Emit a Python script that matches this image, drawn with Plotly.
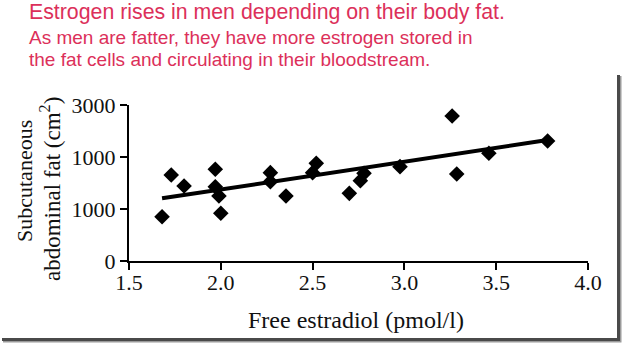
import plotly.graph_objects as go

# Free estradiol (pmol/l) vs subcutaneous abdominal fat (cm^2)
estradiol = [1.68, 1.73, 1.80, 1.97, 1.97, 1.99, 2.00, 2.27, 2.27, 2.355,
             2.50, 2.52, 2.70, 2.76, 2.78, 2.976, 3.26, 3.285, 3.46, 3.78]
fat_area = [852, 1654, 1442, 1763, 1429, 1250, 917, 1699, 1526, 1250,
            1699, 1878, 1301, 1545, 1686, 1814, 2788, 1673, 2071, 2308]

# Fitted trend line end points
trend_x = [1.68, 3.78]
trend_y = [1205, 2325]

x_ticks = [1.5, 2.0, 2.5, 3.0, 3.5, 4.0]
x_tick_text = ["1.5", "2.0", "2.5", "3.0", "3.5", "4.0"]
y_ticks = [0, 1000, 2000, 3000]
y_tick_text = ["0", "1000", "1000", "3000"]

title_lines = [
    "Estrogen rises in men depending on their body fat.",
    "As men are fatter, they have more estrogen stored in",
    "the fat cells and circulating in their bloodstream.",
]

W, H = 624, 345
L, R, T, B = 129, 36, 105, 84
PW, PH = W - L - R, H - T - B


def px(x):
    return (x - L) / PW


def py(y):
    return (H - B - y) / PH


TITLE_COLOR = "#dc305a"
SERIF = "Liberation Serif, Times New Roman, serif"
SANS = "Liberation Sans, Arial, sans-serif"

fig = go.Figure()
fig.add_trace(go.Scatter(
    x=trend_x, y=trend_y, mode="lines",
    line=dict(color="black", width=4), hoverinfo="skip",
))
fig.add_trace(go.Scatter(
    x=estradiol, y=fat_area, mode="markers",
    marker=dict(symbol="diamond", size=12, color="black"),
))

annotations = []
for text, cy, size in zip(title_lines, [12, 37.5, 59.5], [21.3, 19, 19]):
    annotations.append(dict(
        text=text, x=px(27), y=py(cy), xref="paper", yref="paper",
        xanchor="left", yanchor="middle", showarrow=False,
        font=dict(family=SANS, size=size, color=TITLE_COLOR),
    ))

annotations.append(dict(
    text="Subcutaneous", x=px(24), y=py(181), xref="paper", yref="paper",
    xanchor="center", yanchor="middle", textangle=-90, showarrow=False,
    font=dict(family=SERIF, size=22, color="#111"),
))
annotations.append(dict(
    text="abdominal fat (cm<sup>2</sup>)", x=px(50), y=py(189),
    xref="paper", yref="paper", xanchor="center", yanchor="middle",
    textangle=-90, showarrow=False,
    font=dict(family=SERIF, size=23, color="#111"),
))
annotations.append(dict(
    text="Free estradiol (pmol/l)", x=px(356), y=py(320),
    xref="paper", yref="paper", xanchor="center", yanchor="middle",
    showarrow=False, font=dict(family=SERIF, size=24, color="#111"),
))

# Drop shadow along the right and bottom edges of the slide
shapes = [
    dict(type="rect", xref="paper", yref="paper",
         x0=px(617), x1=px(620), y0=py(341), y1=py(75),
         fillcolor="#4a4a4a", line=dict(width=0), layer="above"),
    dict(type="rect", xref="paper", yref="paper",
         x0=px(620), x1=px(621.5), y0=py(341), y1=py(76),
         fillcolor="#9a9a9a", line=dict(width=0), layer="above"),
    dict(type="rect", xref="paper", yref="paper",
         x0=px(2), x1=px(620), y0=py(341), y1=py(338),
         fillcolor="#4a4a4a", line=dict(width=0), layer="above"),
    dict(type="rect", xref="paper", yref="paper",
         x0=px(3), x1=px(621.5), y0=py(342.5), y1=py(341),
         fillcolor="#9a9a9a", line=dict(width=0), layer="above"),
]

axis_common = dict(
    showgrid=False, zeroline=False, showline=True, linecolor="black",
    linewidth=2, ticks="outside", ticklen=7, tickwidth=2, tickcolor="black",
    tickfont=dict(family=SERIF, size=22, color="#111"),
)

fig.update_layout(
    width=W, height=H,
    margin=dict(l=L, r=R, t=T, b=B),
    paper_bgcolor="white", plot_bgcolor="white",
    showlegend=False,
    xaxis=dict(range=[1.5, 4.0], tickvals=x_ticks, ticktext=x_tick_text,
               ticklabelstandoff=-6, **axis_common),
    yaxis=dict(range=[0, 3000], tickvals=y_ticks, ticktext=y_tick_text,
               **axis_common),
    annotations=annotations,
    shapes=shapes,
)

fig.write_html("out.html")
